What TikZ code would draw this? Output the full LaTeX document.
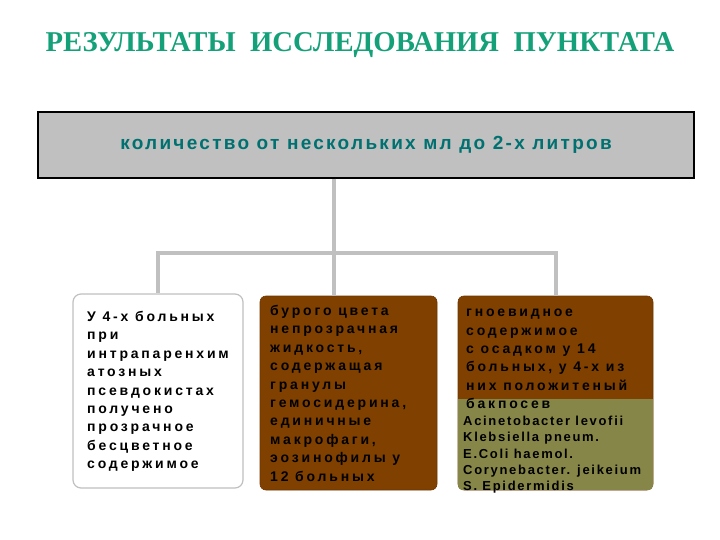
\documentclass[tikz,border=0pt]{standalone}
\usepackage{fontspec}
\setmainfont{Liberation Sans}
\newfontfamily\titlefont{Liberation Serif}
\newfontfamily\amountfont[LetterSpace=12]{Liberation Sans}
\newfontfamily\boxfont[LetterSpace=20]{Liberation Sans}
\newfontfamily\latinfont[LetterSpace=13]{Liberation Sans}
\usepackage{tikz}
\usetikzlibrary{calc}
\usetikzlibrary{positioning}
\definecolor{titlegreen}{RGB}{20,160,120}
\definecolor{amountteal}{RGB}{0,112,112}
\definecolor{linkgray}{RGB}{192,192,192}
\definecolor{punctbrown}{RGB}{128,64,0}
\definecolor{bakolive}{RGB}{134,134,72}

\begin{document}
\begin{tikzpicture}[x=1pt, y=-1pt]
				\tikzstyle{amountnode}=[draw=black, line width=1.5pt, fill=linkgray, minimum width=656pt, minimum height=66pt, text=amountteal, font=\amountfont\bfseries\fontsize{19}{22}\selectfont]
				\tikzstyle{whitenode}=[draw=linkgray, line width=1.2pt, fill=white, rounded corners=8pt, minimum height=194pt]
				\tikzstyle{brownnode}=[draw=punctbrown!85!black, line width=0.6pt, fill=punctbrown, rounded corners=6pt, minimum height=194pt]
				\tikzstyle{boxtext}=[anchor=north west, inner sep=0pt, align=left, text=black, font=\boxfont\bfseries\fontsize{14}{18.4}\selectfont]
				\tikzstyle{latintext}=[anchor=north west, inner sep=0pt, align=left, text=black, font=\latinfont\bfseries\fontsize{13}{16.3}\selectfont]
				\tikzstyle{link}=[draw=linkgray, line width=4pt]
				
				\useasboundingbox (0,0) rectangle (720,540);
				
				\node (title) at (360,45) [text=titlegreen, font=\titlefont\bfseries\fontsize{28.7}{32}\selectfont] {РЕЗУЛЬТАТЫ\ \ ИССЛЕДОВАНИЯ\ \ ПУНКТАТА};
				
				\node (q0) at (366,145) [amountnode] {количество от нескольких мл до 2-х литров};
				
				\node (r1) at (158,391) [whitenode, minimum width=170pt] {};
				\node (r2) at (348.5,393) [brownnode, minimum width=177pt] {};
				\node (r3) at (555.5,393) [brownnode, minimum width=195pt] {};
				
				\coordinate (bak) at (0,399);
				\begin{scope}
					\clip[rounded corners=6pt] (r3.north west) rectangle (r3.south east);
					\fill[bakolive] (r3.west |- bak) rectangle (r3.south east);
				\end{scope}
				
				\coordinate (split) at (334,253);
				\draw [link] (q0.south -| split) -- (split);
				\draw [link] (r1.north) |- (split) -| (r3.north);
				\draw [link] (split) -- (split |- r2.north);
				
				\node (r1T) at (87,311) [boxtext] {У 4-х больных\\при\\интрапаренхим\\атозных\\псевдокистах\\получено\\прозрачное\\бесцветное\\содержимое};
				\node (r2T) at (270,305) [boxtext] {бурого цвета\\непрозрачная\\жидкость,\\содержащая\\гранулы\\гемосидерина,\\единичные\\макрофаги,\\эозинофилы у\\12 больных};
				\node (r3T) at (466,309) [boxtext] {гноевидное\\содержимое\\с осадком у 14\\больных, у 4-х из\\них положитеный\\бакпосев};
				\node (r3L) at (463,416) [latintext] {Acinetobacter levofii\\Klebsiella pneum.\\E.Coli haemol.\\Corynebacter. jeikeium\\S. Epidermidis};
\end{tikzpicture}
\end{document}
